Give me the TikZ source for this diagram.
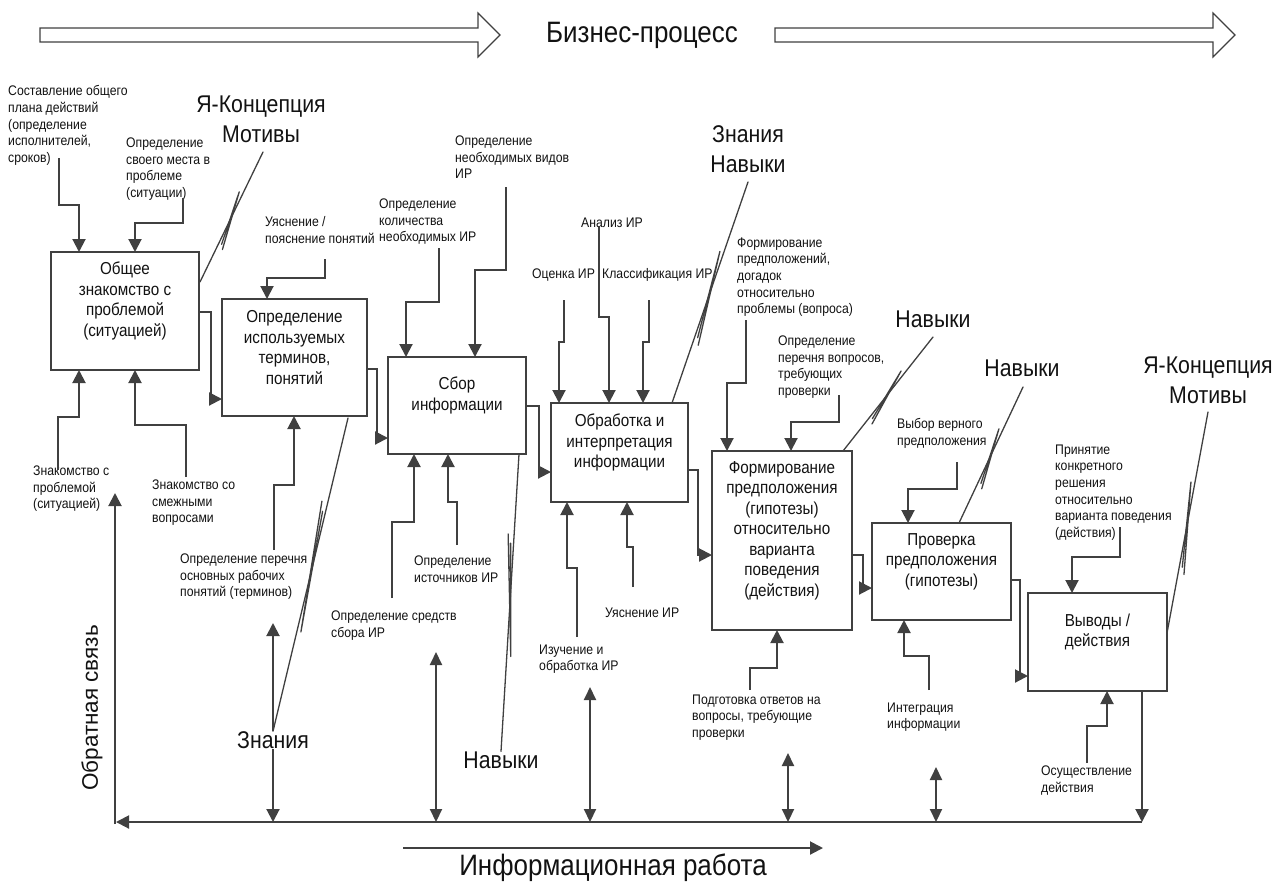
\documentclass[tikz,border=0pt]{standalone}
\usepackage{fontspec}
\setmainfont[FakeStretch=0.88]{Liberation Sans}
\newfontfamily\plainsans{Liberation Sans}
\usetikzlibrary{calc,arrows.meta}
\definecolor{ln}{HTML}{404040}
\definecolor{tx}{HTML}{121212}
\newcommand{\smallsz}{\fontsize{13.9}{16.6}\selectfont}
\newcommand{\boxsz}{\fontsize{17.3}{20.5}\selectfont}
\newcommand{\bigsz}{\fontsize{24.2}{30}\selectfont}
\newcommand{\hugesz}{\fontsize{29.5}{32}\selectfont}
% resource line with a break mark in its middle
\newcommand{\mechpath}[2]{%
  \draw[mech] (#1) -- (#2);
  \draw[mech] ($(#1)!0.27!(#2)!6pt!-90:(#2)$) -- ($(#1)!0.68!(#2)!4pt!90:(#2)$) -- ($(#1)!0.30!(#2)!3pt!-90:(#2)$);
}
\begin{document}
\begin{tikzpicture}[x=1pt,y=-1pt,
  box/.style={draw=ln, line width=2pt, anchor=north west, outer sep=0pt, inner sep=0pt},
  boxtxt/.style={font=\boxsz, align=center, inner sep=0pt, text=tx},
  lbl/.style={font=\smallsz, align=left, anchor=north west, inner sep=0pt, text=tx, execute at begin node=\strut},
  big/.style={font=\bigsz, align=center, inner sep=0pt, text=tx},
  flow/.style={draw=ln, line width=2pt, -{Triangle[length=13pt,width=13pt]}},
  dbl/.style={draw=ln, line width=2pt, {Triangle[length=13pt,width=12pt]}-{Triangle[length=13pt,width=12pt]}},
  mech/.style={draw=ln, line width=1.3pt, line cap=round, line join=round},
  hollow/.style={draw=ln, line width=1.2pt, fill=white},
]
\useasboundingbox (0,0) rectangle (1284,887);

% ---------- business process band ----------
\draw[hollow] (40,28) -- (478,28) -- (478,13) -- (500,35) -- (478,57) -- (478,42) -- (40,42) -- cycle;
\draw[hollow] (775,28) -- (1213,28) -- (1213,13) -- (1235,35) -- (1213,57) -- (1213,42) -- (775,42) -- cycle;
\node[font=\hugesz, text=tx, inner sep=0pt] (bp) at (642,35) {Бизнес-процесс};

% ---------- activity boxes ----------
\node[box, minimum width=148pt, minimum height=118pt] (b1) at (51,252) {};
\node[box, minimum width=145pt, minimum height=117pt] (b2) at (222,299) {};
\node[box, minimum width=138pt, minimum height=97pt]  (b3) at (388,357) {};
\node[box, minimum width=137pt, minimum height=99pt]  (b4) at (551,403) {};
\node[box, minimum width=140pt, minimum height=179pt] (b5) at (712,451) {};
\node[box, minimum width=139pt, minimum height=97pt]  (b6) at (872,523) {};
\node[box, minimum width=139pt, minimum height=98pt]  (b7) at (1028,593) {};

\node[boxtxt] (b1t) at ($(b1.center)+(0,-10)$) {Общее\\знакомство с\\проблемой\\(ситуацией)};
\node[boxtxt] (b2t) at ($(b2.center)+(0,-10)$) {Определение\\используемых\\терминов,\\понятий};
\node[boxtxt] (b3t) at ($(b3.center)+(0,-10)$) {Сбор\\информации};
\node[boxtxt] (b4t) at ($(b4.center)+(0,-10)$) {Обработка и\\интерпретация\\информации};
\node[boxtxt] (b5t) at ($(b5.center)+(0,-10)$) {Формирование\\предположения\\(гипотезы)\\относительно\\варианта\\поведения\\(действия)};
\node[boxtxt] (b6t) at ($(b6.center)+(0,-10)$) {Проверка\\предположения\\(гипотезы)};
\node[boxtxt] (b7t) at ($(b7.center)+(0,-10)$) {Выводы /\\действия};

% ---------- small labels ----------
\node[lbl] (l1)  at (8,85.5)    {Составление общего\\плана действий\\(определение\\исполнителей,\\сроков)};
\node[lbl] (l2)  at (126,137.5) {Определение\\своего места в\\проблеме\\(ситуации)};
\node[lbl] (l3)  at (33,465.5)  {Знакомство с\\проблемой\\(ситуацией)};
\node[lbl] (l4)  at (152,479.5) {Знакомство со\\смежными\\вопросами};
\node[lbl] (l5)  at (265,216.5) {Уяснение /\\пояснение понятий};
\node[lbl] (l6)  at (180,553.5) {Определение перечня\\основных рабочих\\понятий (терминов)};
\node[lbl] (l7)  at (379,198.5) {Определение\\количества\\необходимых ИР};
\node[lbl] (l8)  at (455,135.5) {Определение\\необходимых видов\\ИР};
\node[lbl] (l9)  at (331,610.5) {Определение средств\\сбора ИР};
\node[lbl] (l10) at (414,555.5) {Определение\\источников ИР};
\node[lbl] (l11) at (532,266.5) {Оценка ИР};
\node[lbl] (l12) at (581,215.5) {Анализ ИР};
\node[lbl] (l13) at (602,266.5) {Классификация ИР};
\node[lbl] (l14) at (539,644.5) {Изучение и\\обработка ИР};
\node[lbl] (l15) at (605,605.5) {Уяснение ИР};
\node[lbl] (l16) at (737,237.5) {Формирование\\предположений,\\догадок\\относительно\\проблемы (вопроса)};
\node[lbl] (l17) at (778,335.5) {Определение\\перечня вопросов,\\требующих\\проверки};
\node[lbl] (l18) at (692,694.5) {Подготовка ответов на\\вопросы, требующие\\проверки};
\node[lbl] (l19) at (897,418.5) {Выбор верного\\предположения};
\node[lbl] (l20) at (887,702.5) {Интеграция\\информации};
\node[lbl] (l21) at (1055,444.5) {Принятие\\конкретного\\решения\\относительно\\варианта поведения\\(действия)};
\node[lbl] (l22) at (1041,765.5) {Осуществление\\действия};

% ---------- resource labels ----------
\node[big] (r1) at (261,119)  {Я-Концепция\\Мотивы};
\node[big] (r2) at (273,740)  {Знания};
\node[big] (r3) at (501,760)  {Навыки};
\node[big] (r4) at (748,149)  {Знания\\Навыки};
\node[big] (r5) at (933,319)  {Навыки};
\node[big] (r6) at (1022,368) {Навыки};
\node[big] (r7) at (1208,380) {Я-Концепция\\Мотивы};

% ---------- inputs from above ----------
\coordinate (c1s) at (59,158);   \draw[flow] (c1s) -- (59,205) -- (79,205) -- ($(b1.north west)+(28,0)$);
\coordinate (c2s) at (183,198);  \draw[flow] (c2s) -- (183,223) -- (135,223) -- ($(b1.north west)+(84,0)$);
\coordinate (c5s) at (325,259);  \draw[flow] (c5s) -- (325,278) -- (267,278) -- ($(b2.north west)+(45,0)$);
\coordinate (c7s) at (439,248);  \draw[flow] (c7s) -- (439,302) -- (406,302) -- ($(b3.north west)+(18,0)$);
\coordinate (c8s) at (506,187);  \draw[flow] (c8s) -- (506,270) -- (475,270) -- ($(b3.north west)+(87,0)$);
\coordinate (c11s) at (564,300); \draw[flow] (c11s) -- (564,342) -- (559,342) -- ($(b4.north west)+(8,0)$);
\coordinate (c12s) at (599,227); \draw[flow] (c12s) -- (599,317) -- (609,317) -- ($(b4.north west)+(58,0)$);
\coordinate (c13s) at (649,300); \draw[flow] (c13s) -- (649,342) -- (643,342) -- ($(b4.north west)+(92,0)$);
\coordinate (c16s) at (746,320); \draw[flow] (c16s) -- (746,383) -- (727,383) -- ($(b5.north west)+(15,0)$);
\coordinate (c17s) at (839,395); \draw[flow] (c17s) -- (839,422) -- (791,422) -- ($(b5.north west)+(79,0)$);
\coordinate (c19s) at (957,462); \draw[flow] (c19s) -- (957,489) -- (908,489) -- ($(b6.north west)+(36,0)$);
\coordinate (c21s) at (1120,527);\draw[flow] (c21s) -- (1120,557) -- (1072,557) -- ($(b7.north west)+(44,0)$);

% ---------- inputs from below ----------
\coordinate (c3s) at (58,470);   \draw[flow] (c3s) -- (58,417) -- (79,417) -- ($(b1.south west)+(28,0)$);
\coordinate (c4s) at (186,477);  \draw[flow] (c4s) -- (186,425) -- (135,425) -- ($(b1.south west)+(84,0)$);
\coordinate (c6s) at (274,550);  \draw[flow] (c6s) -- (274,485) -- (294,485) -- ($(b2.south west)+(72,0)$);
\coordinate (c9s) at (392,598);  \draw[flow] (c9s) -- (392,522) -- (414,522) -- ($(b3.south west)+(26,0)$);
\coordinate (c10s) at (457,545); \draw[flow] (c10s) -- (457,502) -- (448,502) -- ($(b3.south west)+(60,0)$);
\coordinate (c14s) at (577,637); \draw[flow] (c14s) -- (577,568) -- (567,568) -- ($(b4.south west)+(16,0)$);
\coordinate (c15s) at (633,587); \draw[flow] (c15s) -- (633,547) -- (627,547) -- ($(b4.south west)+(76,0)$);
\coordinate (c18s) at (750,690); \draw[flow] (c18s) -- (750,668) -- (777,668) -- ($(b5.south west)+(65,0)$);
\coordinate (c20s) at (929,690); \draw[flow] (c20s) -- (929,656) -- (904,656) -- ($(b6.south west)+(32,0)$);
\coordinate (c22s) at (1087,763);\draw[flow] (c22s) -- (1087,726) -- (1107,726) -- ($(b7.south west)+(79,0)$);

% ---------- outputs between activities ----------
\draw[flow] ($(b1.north east)+(0,60)$)  -- ++(12,0) |- ($(b2.north west)+(0,100)$);
\draw[flow] ($(b2.north east)+(0,70)$)  -- ++(10,0) |- ($(b3.north west)+(0,81)$);
\draw[flow] ($(b3.north east)+(0,49)$)  -- ++(13,0) |- ($(b4.north west)+(0,69)$);
\draw[flow] ($(b4.north east)+(0,67)$)  -- ++(10,0) |- ($(b5.north west)+(0,104)$);
\draw[flow] ($(b5.north east)+(0,104)$) -- ++(11,0) |- ($(b6.north west)+(0,65)$);
\draw[flow] ($(b6.north east)+(0,57)$)  -- ++(9,0)  |- ($(b7.north west)+(0,83)$);

% ---------- resource lines ----------
\coordinate (m1a) at ($(b1.north east)+(1,30)$);  \coordinate (m1b) at (263,152);
\coordinate (m2a) at ($(b2.south east)+(-19,2)$); \coordinate (m2b) at (r2.north);
\coordinate (m3a) at ($(b3.south east)+(-7,0)$);  \coordinate (m3b) at (r3.north);
\coordinate (m4a) at ($(b4.north east)+(-16,0)$); \coordinate (m4b) at (748,182);
\coordinate (m5a) at ($(b5.north east)+(-9,0)$);  \coordinate (m5b) at (933,337);
\coordinate (m6a) at ($(b6.north east)+(-52,0)$); \coordinate (m6b) at (1023,387);
\coordinate (m7a) at ($(b7.north east)+(0,40)$);  \coordinate (m7b) at (1208,412);
\mechpath{m1a}{m1b}
\mechpath{m2a}{m2b}
\mechpath{m3a}{m3b}
\mechpath{m4a}{m4b}
\mechpath{m5a}{m5b}
\mechpath{m6a}{m6b}
\mechpath{m7a}{m7b}

% ---------- information work and feedback ----------
\coordinate (mlr) at (1142,822);
\coordinate (mll) at (116,822);
\coordinate (fbb) at (115,824);
\coordinate (fbt) at (115,493);
\draw[flow] ($(b7.south west)+(114,0)$) -- (mlr);
\draw[flow] (mlr) -- (mll);
\draw[flow] (fbb) -- (fbt);

\coordinate (d1t) at (273,623);
\draw[flow] (r2.north) -- (d1t);
\draw[flow] (r2.south) -- (r2.south |- mlr);
\coordinate (d2t) at (436,652); \draw[dbl] (d2t) -- (d2t |- mlr);
\coordinate (d3t) at (590,687); \draw[dbl] (d3t) -- (d3t |- mlr);
\coordinate (d4t) at (788,753); \draw[dbl] (d4t) -- (d4t |- mlr);
\coordinate (d5t) at (936,767); \draw[dbl] (d5t) -- (d5t |- mlr);

\node[font=\plainsans\fontsize{22.5}{26}\selectfont, text=tx, inner sep=0pt, rotate=90] (fb) at (92,708) {Обратная связь};

\coordinate (ia) at (403,848);
\coordinate (ib) at (823,848);
\draw[flow] (ia) -- (ib);
\node[font=\hugesz, text=tx, inner sep=0pt] (iw) at (613,868) {Информационная работа};
\end{tikzpicture}
\end{document}
